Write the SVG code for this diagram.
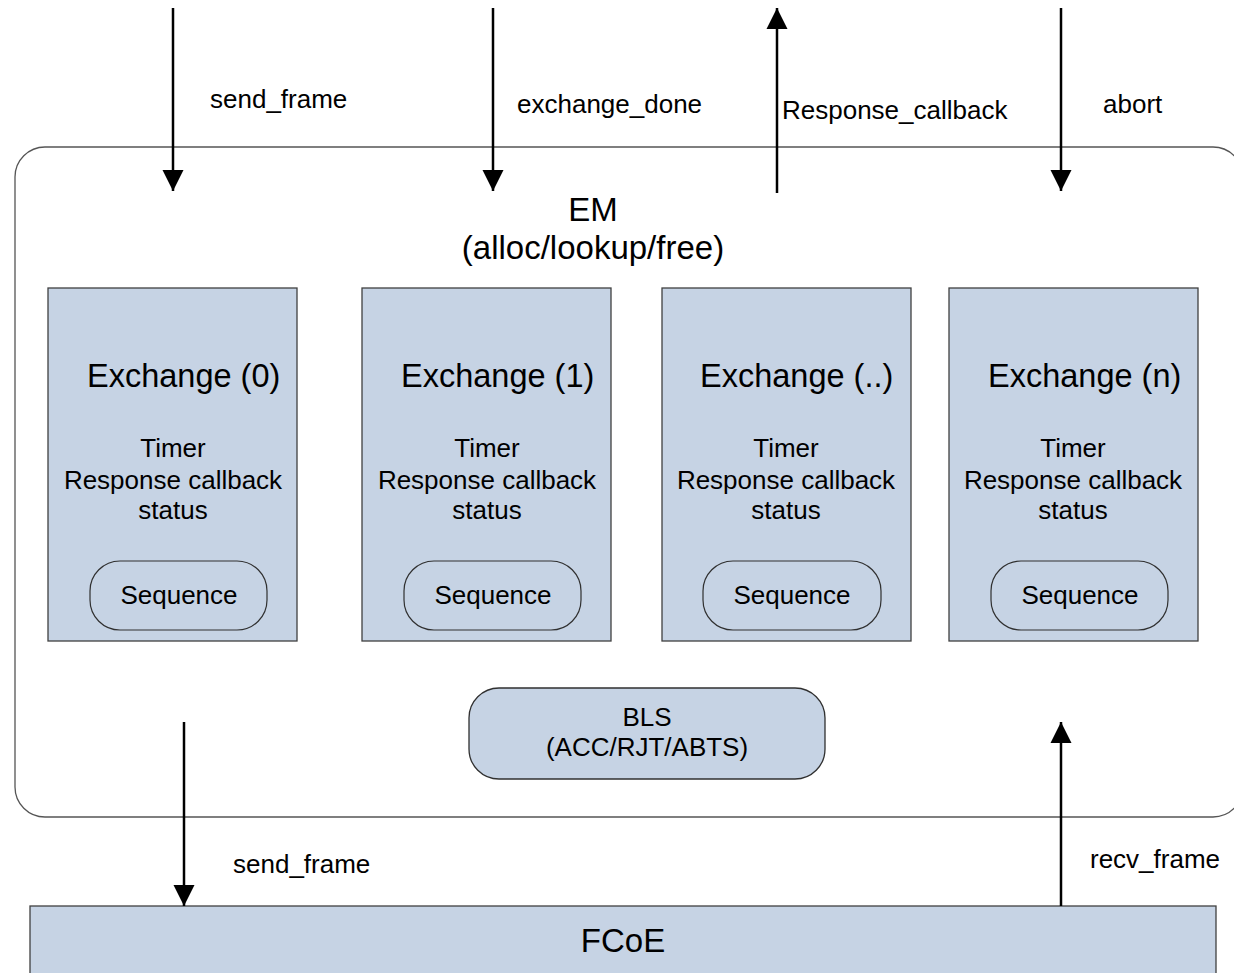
<svg xmlns="http://www.w3.org/2000/svg" width="1234" height="973" viewBox="0 0 1234 973">
<style>
text{font-family:"Liberation Sans",Arial,sans-serif;fill:#000}
.t{font-size:26px}
.ex{font-size:32.5px}
.big{font-size:33px}
.c{text-anchor:middle}
.box{fill:#C6D3E4;stroke:#404040;stroke-width:1.3}
.seq{fill:none;stroke:#303030;stroke-width:1.2}
.arr{stroke:#000;stroke-width:2.5;fill:none}
</style>
<defs>
<marker id="ah" markerUnits="userSpaceOnUse" markerWidth="24" markerHeight="24" viewBox="0 0 24 24" refX="22" refY="12" orient="auto">
<path d="M1,1.5 L22,12 L1,22.5 Z" fill="#000"/>
</marker>
</defs>
<g id="em">
<rect x="15" y="147" width="1228" height="670" rx="30" ry="30" fill="#fff" stroke="#555" stroke-width="1.3"/>
<text class="big c" x="593" y="221">EM</text>
<text class="big c" x="593" y="259">(alloc/lookup/free)</text>
</g>
<g id="exchange0">
<rect class="box" x="48" y="288" width="249" height="353"/>
<text class="ex" x="87" y="387">Exchange (0)</text>
<text class="t c" x="173" y="457">Timer</text>
<text class="t c" x="173" y="489">Response callback</text>
<text class="t c" x="173" y="519">status</text>
<rect class="seq" x="90" y="561" width="177" height="69" rx="30" ry="30"/>
<text class="t c" x="179" y="604">Sequence</text>
</g>
<g id="exchange1">
<rect class="box" x="362" y="288" width="249" height="353"/>
<text class="ex" x="401" y="387">Exchange (1)</text>
<text class="t c" x="487" y="457">Timer</text>
<text class="t c" x="487" y="489">Response callback</text>
<text class="t c" x="487" y="519">status</text>
<rect class="seq" x="404" y="561" width="177" height="69" rx="30" ry="30"/>
<text class="t c" x="493" y="604">Sequence</text>
</g>
<g id="exchange2">
<rect class="box" x="662" y="288" width="249" height="353"/>
<text class="ex" x="700" y="387">Exchange (..)</text>
<text class="t c" x="786" y="457">Timer</text>
<text class="t c" x="786" y="489">Response callback</text>
<text class="t c" x="786" y="519">status</text>
<rect class="seq" x="703" y="561" width="178" height="69" rx="30" ry="30"/>
<text class="t c" x="792" y="604">Sequence</text>
</g>
<g id="exchangen">
<rect class="box" x="949" y="288" width="249" height="353"/>
<text class="ex" x="988" y="387">Exchange (n)</text>
<text class="t c" x="1073" y="457">Timer</text>
<text class="t c" x="1073" y="489">Response callback</text>
<text class="t c" x="1073" y="519">status</text>
<rect class="seq" x="991" y="561" width="177" height="69" rx="30" ry="30"/>
<text class="t c" x="1080" y="604">Sequence</text>
</g>
<g id="bls">
<rect class="box" x="469" y="688" width="356" height="91" rx="30" ry="30" style="stroke:#303030"/>
<text class="t c" x="647" y="726">BLS</text>
<text class="t c" x="647" y="756">(ACC/RJT/ABTS)</text>
</g>
<g id="fcoe">
<rect class="box" x="30" y="906" width="1186" height="80"/>
<text class="big c" x="623" y="952">FCoE</text>
</g>
<g id="connectors">
<line class="arr" x1="173" y1="8" x2="173" y2="191" marker-end="url(#ah)"/>
<line class="arr" x1="493" y1="8" x2="493" y2="191" marker-end="url(#ah)"/>
<line class="arr" x1="777" y1="193" x2="777" y2="8" marker-end="url(#ah)"/>
<line class="arr" x1="1061" y1="8" x2="1061" y2="191" marker-end="url(#ah)"/>
<line class="arr" x1="184" y1="722" x2="184" y2="906" marker-end="url(#ah)"/>
<line class="arr" x1="1061" y1="906" x2="1061" y2="722" marker-end="url(#ah)"/>
<text class="t" x="210" y="108">send_frame</text>
<text class="t" x="517" y="113">exchange_done</text>
<text class="t" x="782" y="119">Response_callback</text>
<text class="t" x="1103" y="113">abort</text>
<text class="t" x="233" y="873">send_frame</text>
<text class="t" x="1090" y="868">recv_frame</text>
</g>
</svg>
